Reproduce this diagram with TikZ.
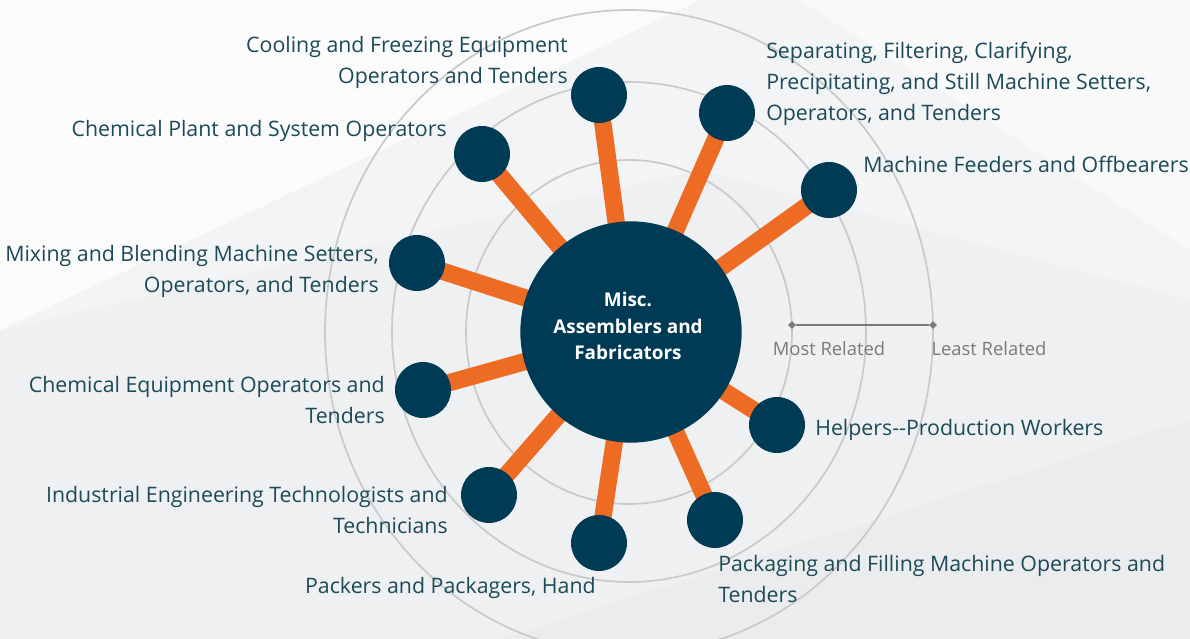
\documentclass[tikz,border=0pt]{standalone}
\usepackage{fontspec}
\setmainfont{Open Sans}
\usetikzlibrary{positioning,shapes.geometric}
\definecolor{hubblue}{HTML}{003B55}
\definecolor{spokeorange}{HTML}{EE6B24}
\definecolor{jobtext}{HTML}{1B4A58}
\definecolor{ringgray}{HTML}{C9CACB}
\definecolor{legendgray}{HTML}{7A7A7A}
\definecolor{bgcol}{HTML}{F3F4F5}
\pgfdeclarelayer{bottom}
\pgfdeclarelayer{background}
\pgfsetlayers{bottom,background,main}
\tikzset{
    hub/.style={
        circle,
        fill=hubblue,
        minimum size=166pt,
        inner sep=0pt
    },
    hubtext/.style={
        text=white,
        align=center,
        inner sep=0pt,
        font=\bfseries\fontsize{14.2}{19.8}\selectfont
    },
    % the small circles round the hub
    sat/.style={
        circle,
        fill=hubblue,
        minimum size=42pt,
        inner sep=0pt
    },
    spoke/.style={
        line width=13pt,
        spokeorange
    },
    ring/.style={
        draw=ringgray,
        line width=1.3pt
    },
    job/.style={
        text=jobtext,
        inner sep=0pt,
        font=\fontsize{16}{23.2}\selectfont
    },
    tick/.style={
        diamond,
        fill=legendgray,
        minimum size=6pt,
        inner sep=0pt
    }
}

\begin{document}
\begin{tikzpicture}[x=0.75pt,y=-0.75pt]
   \path[use as bounding box] (0,0) rectangle (1190,639);
   \begin{pgfonlayer}{bottom}
   \begin{scope}
   \clip (0,0) rectangle (1190,639);
   \fill[bgcol] (0,0) rectangle (1190,639);
   \fill[white,opacity=0.7] (0,0) -- (700,0) -- (0,330) -- cycle;
   \fill[gray,opacity=0.03] (0,330) -- (700,170) -- (1190,300) -- (1190,639) -- (0,639) -- cycle;
   \fill[white,opacity=0.5] (800,0) -- (1190,0) -- (1190,250) -- cycle;
   \fill[gray,opacity=0.03] (500,639) -- (1190,420) -- (1190,639) -- cycle;
   \end{scope}
   \end{pgfonlayer}

   \node[hub] (hub) at (631,332) {};
   \node[hubtext] (hubt) at (628,326) {Misc.\\Assemblers and\\Fabricators};

   \node[sat] (cool) at (599,95) {};
   \node[sat] (sep) at (727,113) {};
   \node[sat] (feed) at (829,190) {};
   \node[sat] (plant) at (482,154) {};
   \node[sat] (mix) at (417,263) {};
   \node[sat] (equip) at (423,390) {};
   \node[sat] (indus) at (489,495) {};
   \node[sat] (pack) at (599,543) {};
   \node[sat] (fill) at (715,520) {};
   \node[sat] (help) at (777,425) {};

   \begin{pgfonlayer}{background}
   \begin{scope}
   \clip (0,0) rectangle (1190,639);
   \draw[ring] (629,332) ellipse [x radius=163, y radius=172];
   \draw[ring] (629,332) ellipse [x radius=237, y radius=250];
   \draw[ring] (629,332) ellipse [x radius=304, y radius=322];
   \end{scope}
   \foreach \s in {cool,sep,feed,plant,mix,equip,indus,pack,fill,help}
      \draw[spoke] (hub.center) -- (\s.center);
   \end{pgfonlayer}

   % labels
   \node[job,anchor=east,align=right] (coolt) at (568,62) {Cooling and Freezing Equipment\\Operators and Tenders};
   \node[job,anchor=west,align=left] (sept) at (766,84) {Separating, Filtering, Clarifying,\\Precipitating, and Still Machine Setters,\\Operators, and Tenders};
   \node[job,anchor=west] (feedt) at (863,164) {Machine Feeders and Offbearers};
   \node[job,anchor=east] (plantt) at (447,131) {Chemical Plant and System Operators};
   \node[job,anchor=east,align=right] (mixt) at (379,271) {Mixing and Blending Machine Setters,\\Operators, and Tenders};
   \node[job,anchor=east,align=right] (equipt) at (385,400) {Chemical Equipment Operators and\\Tenders};
   \node[job,anchor=east,align=right] (indust) at (448,510) {Industrial Engineering Technologists and\\Technicians};
   \node[job,anchor=east] (packt) at (596,588) {Packers and Packagers, Hand};
   \node[job,anchor=west,align=left] (fillt) at (718,579) {Packaging and Filling Machine Operators and\\Tenders};
   \node[job,anchor=west] (helpt) at (815,430) {Helpers\mbox{-}\mbox{-}Production Workers};

   % legend
   \node[tick] (most) at (792,325) {};
   \node[tick] (least) at (933,325) {};
   \draw[legendgray,line width=1.6pt] (most) -- (least);
   \node[text=legendgray,font=\fontsize{13.8}{15}\selectfont] (mostt) at (829,349) {Most Related};
   \node[text=legendgray,font=\fontsize{13.8}{15}\selectfont] (leastt) at (989,349) {Least Related};
\end{tikzpicture}
\end{document}
